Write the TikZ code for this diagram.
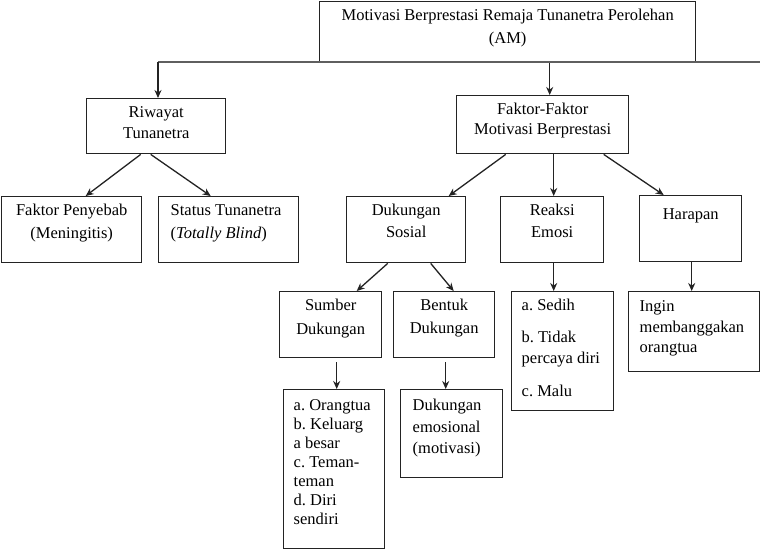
\documentclass[tikz,border=0pt]{standalone}
\usepackage{fontspec}
\setmainfont{Liberation Serif}
\usetikzlibrary{arrows.meta, positioning, calc}
\definecolor{garis}{RGB}{35, 35, 35}
\definecolor{garisabu}{RGB}{95, 95, 95}
\hyphenpenalty=10000
\frenchspacing

\begin{document}
\begin{tikzpicture}[x=1pt, y=-1pt,
  kotak/.style={draw=garis, line width=1.4pt, anchor=north west, inner ysep=0pt,
    text height=19pt, font=\fontsize{16.5}{21}\selectfont},
  tengah/.style={align=flush center, inner xsep=0pt},
  kiri/.style={align=flush left, inner xsep=#1},
  jarak/.style={font=\fontsize{16.5}{#1}\selectfont},
  panah/.style={-{Stealth[length=8pt, width=7pt]}, draw=garis, line width=1.3pt}]
  \useasboundingbox (0,0) rectangle (760,549);

  % Top box and its branch line
  \node[kotak, tengah, jarak=23, text width=376pt, text depth=42pt] (am) at (319,1)
    {Motivasi Berprestasi Remaja Tunanetra Perolehan\\(AM)};
  \coordinate (kiri) at (158,62);
  \coordinate (kanan) at (760,62);
  \draw[garisabu, line width=1.6pt] (kiri) -- (kanan);

  % Second level
  \node[kotak, tengah, text width=139pt, text depth=36pt] (riwayat) at (86,98)
    {Riwayat\\Tunanetra};
  \node[kotak, tengah, jarak=20, text width=172pt, text depth=39pt] (faktor) at (456,95)
    {Faktor-Faktor\\Motivasi Berprestasi};

  % Third level
  \node[kotak, tengah, jarak=23, text width=140pt, text depth=47pt] (penyebab) at (1,196)
    {Faktor Penyebab\\(Meningitis)};
  \node[kotak, kiri=12pt, jarak=23, text width=116pt, text depth=47pt] (status) at (158,196)
    {Status~Tunanetra\\(\textit{Totally Blind})};
  \node[kotak, tengah, jarak=22, text width=119pt, text depth=47pt] (sosial) at (346,196)
    {Dukungan\\Sosial};
  \node[kotak, tengah, jarak=22, text width=103pt, text depth=47pt] (reaksi) at (500,196)
    {Reaksi\\Emosi};
  \node[kotak, tengah, text width=102pt, text height=24pt, text depth=42pt] (harapan) at (639,195)
    {Harapan};

  % Fourth level
  \node[kotak, tengah, jarak=24, text width=102pt, text depth=47pt] (sumber) at (279,291)
    {Sumber\\Dukungan};
  \node[kotak, tengah, jarak=23, text width=101pt, text depth=47pt] (bentuk) at (393,291)
    {Bentuk\\Dukungan};
  \node[kotak, kiri=10pt, text width=82pt, text depth=100pt] (sedih) at (511,291)
    {a.~Sedih\\[11pt]b.~Tidak\\percaya~diri\\[12pt]c.~Malu};
  \node[kotak, kiri=11pt, jarak=20.5, text width=109pt, text height=20pt, text depth=60pt] (ingin) at (628,291)
    {Ingin\\membanggakan\\orangtua};

  % Fifth level
  \node[kotak, kiri=10pt, jarak=19, text width=81pt, text height=21pt, text depth=138pt] (orangtua) at (283,389)
    {a.~Orangtua\\b.~Keluarg\\a~besar\\c.~Teman-\\teman\\d.~Diri\\sendiri};
  \node[kotak, kiri=12pt, jarak=21.5, text width=78pt, text height=21pt, text depth=67pt] (emosional) at (400,389)
    {Dukungan\\emosional\\(motivasi)};

  % Arrows
  \draw[panah] (kiri) -- (kiri |- riwayat.north);
  \draw[panah] ([xshift=7pt]faktor.north |- am.south) -- ([xshift=7pt]faktor.north);
  \draw[panah] ([xshift=-15.5pt]riwayat.south) -- ([xshift=14pt]penyebab.north);
  \draw[panah] ([xshift=-5.5pt]riwayat.south) -- ([xshift=-18pt]status.north);
  \draw[panah] ([xshift=-37pt]faktor.south) -- ([xshift=42.5pt]sosial.north);
  \draw[panah] ([xshift=11pt]faktor.south) -- ([xshift=1.5pt]reaksi.north);
  \draw[panah] ([xshift=61pt]faktor.south) -- ([xshift=-27pt]harapan.north);
  \draw[panah] ([xshift=-18.5pt]sosial.south) -- ([xshift=26pt]sumber.north);
  \draw[panah] ([xshift=24.5pt]sosial.south) -- ([xshift=9.5pt]bentuk.north);
  \draw[panah] ([xshift=1.5pt]reaksi.south) -- ([xshift=-9pt]sedih.north);
  \draw[panah] ([xshift=1pt]harapan.south) -- ([xshift=-2.5pt]ingin.north);
  \draw[panah] ([xshift=6pt, yshift=-4pt]sumber.south) -- ([xshift=2.5pt]orangtua.north);
  \draw[panah] ([xshift=1.5pt, yshift=-4pt]bentuk.south) -- ([xshift=-6pt]emosional.north);
\end{tikzpicture}
\end{document}
